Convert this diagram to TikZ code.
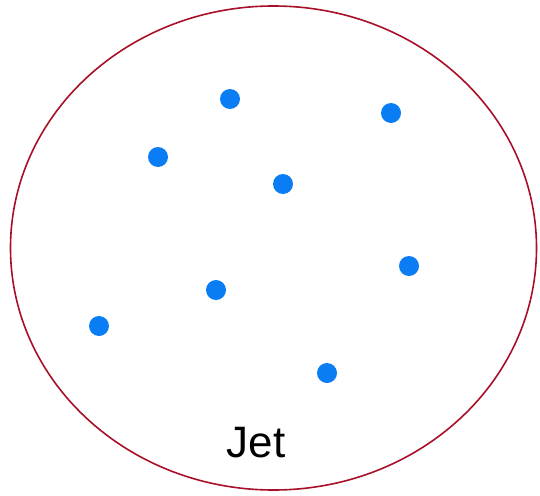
\documentclass[tikz,border=0pt]{standalone}
\usepackage{fontspec}
\setmainfont{Liberation Sans}
\usetikzlibrary{shapes.geometric}
\definecolor{jetred}{RGB}{168,16,40}
\definecolor{dotblue}{RGB}{10,125,245}
\begin{document}
\begin{tikzpicture}[x=1pt,y=-1pt,
  particle/.style={circle,fill=dotblue,inner sep=0pt,minimum size=20pt},
  jetline/.style={draw=jetred,line width=1.6pt}]
\useasboundingbox (0,0) rectangle (540,495);
\node[jetline,ellipse,minimum width=526pt,minimum height=484pt,inner sep=0pt] (jet) at (273.5,248) {};
\node[particle] (p1) at (230,99) {};
\node[particle] (p2) at (391,113) {};
\node[particle] (p3) at (158,157) {};
\node[particle] (p4) at (283,184) {};
\node[particle] (p5) at (409,266) {};
\node[particle] (p6) at (216,290) {};
\node[particle] (p7) at (99,326) {};
\node[particle] (p8) at (327,373) {};
\node[font=\fontsize{44}{44}\selectfont,inner sep=0pt,anchor=base] (label) at (256,457) {Jet};
\end{tikzpicture}
\end{document}
